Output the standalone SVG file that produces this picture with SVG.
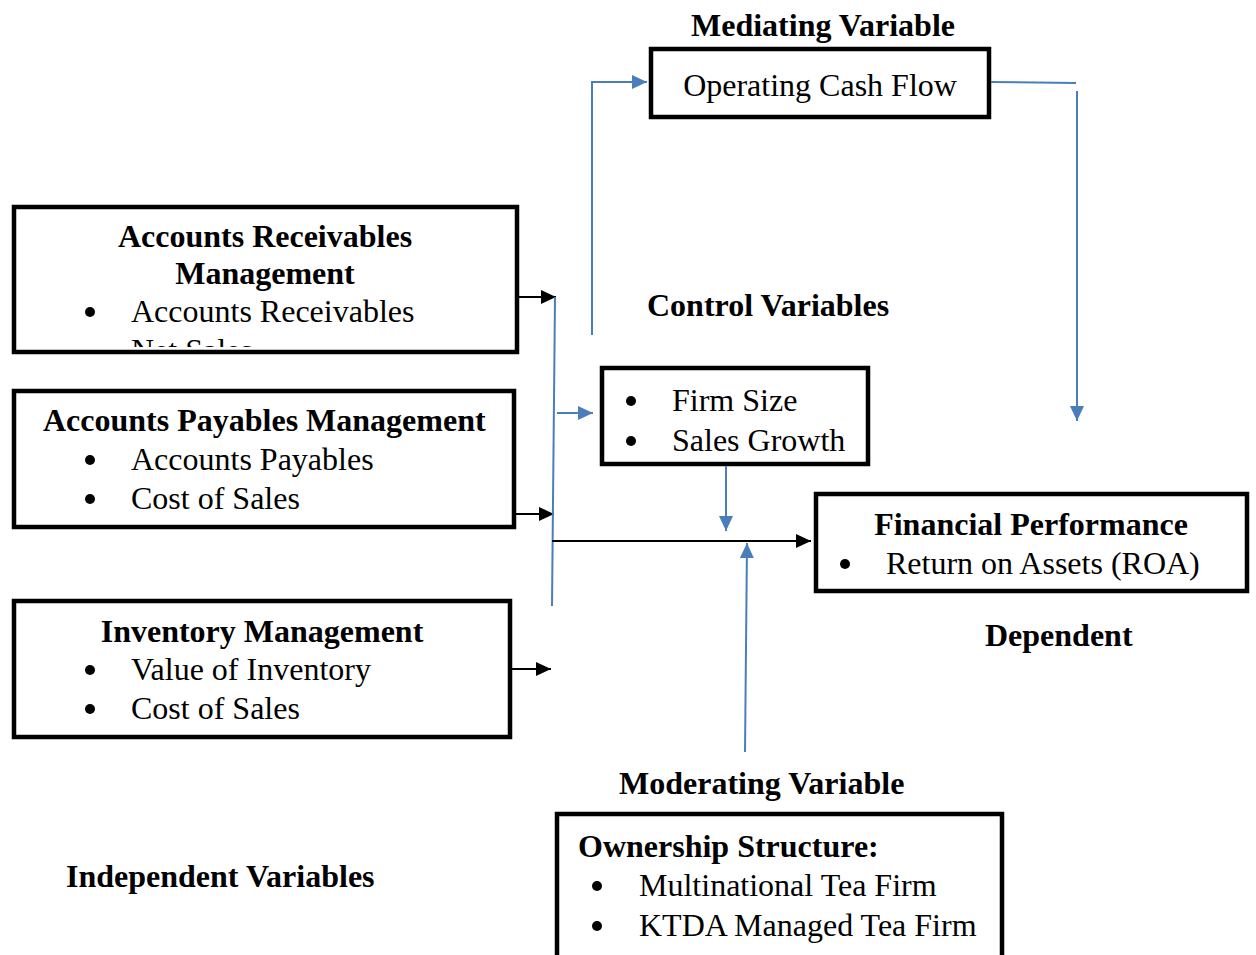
<svg xmlns="http://www.w3.org/2000/svg" width="1256" height="955" viewBox="0 0 1256 955">
<style>
text{font-family:"Liberation Serif","Times New Roman",serif;font-size:32px;fill:#000}
.b{font-weight:bold}
.m{text-anchor:middle}
.box{fill:#fff;stroke:#000;stroke-width:4.5}
.bl{fill:#000}
.k{stroke:#000;stroke-width:2;fill:none}
.u{stroke:#4a7ebb;stroke-width:2;fill:none}
</style>
<defs>
<marker id="ak" markerUnits="userSpaceOnUse" markerWidth="16" markerHeight="16" refX="15" refY="7" orient="auto"><path d="M0,0 L15,7 L0,14 z" fill="#000"/></marker>
<marker id="au" markerUnits="userSpaceOnUse" markerWidth="16" markerHeight="16" refX="15" refY="7" orient="auto"><path d="M0,0 L15,7 L0,14 z" fill="#4a7ebb"/></marker>
<clipPath id="arclip"><rect x="14" y="207" width="503" height="140"/></clipPath>
</defs>

<g id="labels">
<text class="b m" x="823" y="36">Mediating Variable</text>
<text class="b" x="647" y="316">Control Variables</text>
<text class="b" x="985" y="646">Dependent</text>
<text class="b" x="619" y="794">Moderating Variable</text>
<text class="b" x="66" y="887">Independent Variables</text>
</g>

<g id="ocf">
<rect class="box" x="651" y="49" width="338" height="68"/>
<text class="m" x="820" y="96">Operating Cash Flow</text>
</g>

<g id="ar">
<rect class="box" x="14" y="207" width="503" height="145"/>
<text class="b m" x="265" y="247">Accounts Receivables</text>
<text class="b m" x="265" y="284">Management</text>
<circle class="bl" cx="90" cy="312" r="5"/>
<text x="131" y="322">Accounts Receivables</text>
<text x="131" y="361" clip-path="url(#arclip)">Net Sales</text>
</g>

<g id="ap">
<rect class="box" x="14" y="391" width="500" height="136"/>
<text class="b" x="43" y="431">Accounts Payables Management</text>
<circle class="bl" cx="90" cy="460" r="5"/>
<text x="131" y="470">Accounts Payables</text>
<circle class="bl" cx="90" cy="499" r="5"/>
<text x="131" y="509">Cost of Sales</text>
</g>

<g id="inv">
<rect class="box" x="14" y="601" width="496" height="136"/>
<text class="b m" x="262" y="642">Inventory Management</text>
<circle class="bl" cx="90" cy="670" r="5"/>
<text x="131" y="680">Value of Inventory</text>
<circle class="bl" cx="90" cy="709" r="5"/>
<text x="131" y="719">Cost of Sales</text>
</g>

<g id="control">
<rect class="box" x="602" y="368" width="266" height="96"/>
<circle class="bl" cx="631" cy="401" r="5"/>
<text x="672" y="411">Firm Size</text>
<circle class="bl" cx="631" cy="441" r="5"/>
<text x="672" y="451">Sales Growth</text>
</g>

<g id="fp">
<rect class="box" x="816" y="494" width="431" height="97"/>
<text class="b m" x="1031" y="535">Financial Performance</text>
<circle class="bl" cx="845" cy="564" r="5"/>
<text x="886" y="574">Return on Assets (ROA)</text>
</g>

<g id="own">
<rect class="box" x="557" y="814" width="445" height="160"/>
<text class="b" x="578" y="857">Ownership Structure:</text>
<circle class="bl" cx="597" cy="886" r="5"/>
<text x="639" y="896">Multinational Tea Firm</text>
<circle class="bl" cx="597" cy="926" r="5"/>
<text x="639" y="936">KTDA Managed Tea Firm</text>
</g>

<g id="connectors">
<line class="k" x1="519" y1="297" x2="556" y2="297" marker-end="url(#ak)"/>
<line class="k" x1="516" y1="514" x2="554" y2="514" marker-end="url(#ak)"/>
<line class="k" x1="512" y1="669" x2="551" y2="669" marker-end="url(#ak)"/>
<line class="u" x1="555" y1="297" x2="552" y2="606"/>
<line class="k" x1="552" y1="541" x2="811" y2="541" marker-end="url(#ak)"/>
<polyline class="u" points="592,335 592,82 647,82" marker-end="url(#au)"/>
<line class="u" x1="557" y1="413" x2="593" y2="413" marker-end="url(#au)"/>
<line class="u" x1="991" y1="82" x2="1076" y2="83"/>
<line class="u" x1="1077" y1="91" x2="1077" y2="421" marker-end="url(#au)"/>
<line class="u" x1="726" y1="466" x2="726" y2="531" marker-end="url(#au)"/>
<line class="u" x1="745" y1="752" x2="747" y2="543" marker-end="url(#au)"/>
</g>
</svg>
